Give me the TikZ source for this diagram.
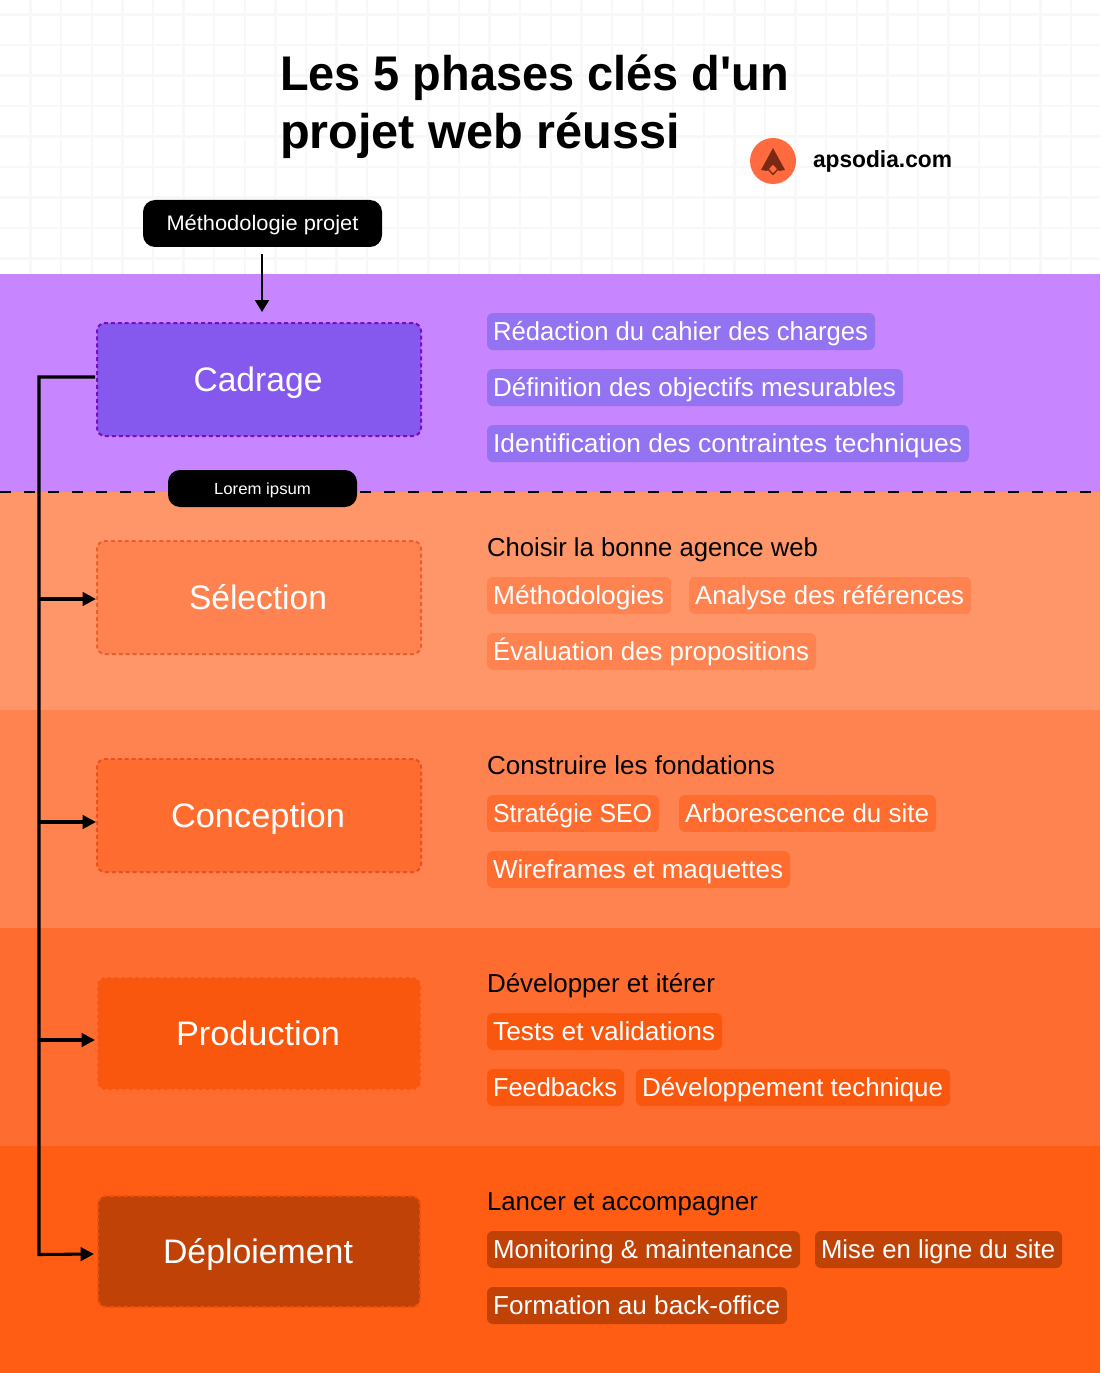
\documentclass[tikz,border=0pt]{standalone}
\usepackage{graphicx}
\usepackage{fontspec}
\setmainfont{Liberation Sans}
\newfontfamily\plainquote{Liberation Sans}
\usetikzlibrary{arrows.meta,calc}
\definecolor{bandA}{HTML}{C786FF}
\definecolor{bandB}{HTML}{FF9669}
\definecolor{bandC}{HTML}{FF8350}
\definecolor{bandD}{HTML}{FF6C30}
\definecolor{bandE}{HTML}{FF5C14}
\definecolor{boxA}{HTML}{8558EE}
\definecolor{boxD}{HTML}{FA570E}
\definecolor{boxE}{HTML}{C04207}
\definecolor{pillA}{HTML}{9373F2}
\definecolor{edgeA}{HTML}{7A0CC4}
\definecolor{edgeB}{HTML}{E8602F}
\definecolor{edgeC}{HTML}{E8521F}
\definecolor{edgeD}{HTML}{FF6C30}
\definecolor{edgeE}{HTML}{F0500F}
\definecolor{gridc}{HTML}{F8F8F8}
\definecolor{logoc}{HTML}{FF6B3F}
\definecolor{logod}{HTML}{7A2A12}
% text stretched or narrowed to a target width given in reference pixels
\newcommand\fitw[2]{\setbox0=\hbox{#2}\pgfmathsetmacro\myratio{((#1)*0.75)/\the\wd0}\scalebox{\myratio}[1]{\box0}}
\tikzset{
  every node/.append style={outer sep=0pt},
  band/.style={fill=#1,draw=none},
  phasebox/.style n args={2}{draw=#2,fill=#1,rounded corners=6pt,dash pattern=on 3pt off 2.2pt,line width=1.5pt,
    anchor=north west,inner sep=0pt,text=white,font=\fontsize{25.5pt}{27pt}\selectfont,
    text height=18pt,text depth=0pt},
  pillbox/.style={fill=#1,draw=none,rounded corners=4.5pt,anchor=north west,inner sep=0pt,text=white,
    font=\fontsize{19.5pt}{22pt}\selectfont,minimum height=27.75pt,text height=13.5pt,text depth=.75pt},
  headtext/.style={anchor=base west,inner sep=0pt,text=black,font=\fontsize{19.5pt}{22pt}\selectfont},
  blackbtn/.style={fill=black,draw=none,text=white,inner sep=0pt,anchor=north west},
  flowarrow/.style={draw=black,line width=2.3pt,-{Triangle[length=10pt,width=10pt]}},
}
\newcommand\pill[6]{\node[pillbox=#5,minimum width={(#3-#2)*0.75pt}] (#1) at (#2,#4) {\kern-.6pt\fitw{#3-#2-13}{#6}};}
\newcommand\phaselabel[2]{\kern-1.5pt\fitw{#1+1}{#2}}
\begin{document}
\begin{tikzpicture}[x=0.75pt,y=-0.75pt]
\useasboundingbox (0,0) rectangle (1100,1373);
\fill[white] (0,0) rectangle (1100,274);
% faint background grid
\foreach \gx in {1,...,35} \draw[gridc,line width=1.8pt] ({\gx*30.6},0) -- ({\gx*30.6},274);
\foreach \gy in {0,...,8} \draw[gridc,line width=1.8pt] (0,{14.5+\gy*30.5}) -- (1100,{14.5+\gy*30.5});
% bands
\fill[band=bandA] (0,274) rectangle (1100,492);
\fill[band=bandB] (0,492) rectangle (1100,710);
\fill[band=bandC] (0,710) rectangle (1100,928);
\fill[band=bandD] (0,928) rectangle (1100,1146);
\fill[band=bandE] (0,1146) rectangle (1100,1373);
% title
\node[anchor=base west,inner sep=0pt,font=\plainquote\bfseries\fontsize{36.5pt}{40pt}\selectfont] (title1) at (280,91) {\fitw{509}{Les 5 phases clés d'un}};
\node[anchor=base west,inner sep=0pt,font=\bfseries\fontsize{36.5pt}{40pt}\selectfont] (title2) at (280,149) {\fitw{400}{projet web réussi}};
% logo
\fill[logoc] (773,161) circle (23);
\fill[logod] (773,148) -- (785,170) -- (779,171) -- (773,163) -- (767,171) -- (761,170) -- cycle;
\draw[logod,fill=logoc,line width=1pt] (773,163.5) -- (778,169) -- (773,174.5) -- (768,169) -- cycle;
\node[anchor=base west,inner sep=0pt,font=\bfseries\fontsize{17.5pt}{20pt}\selectfont] (site) at (813,167.5) {\fitw{139}{apsodia.com}};
% black buttons
\node[blackbtn,rounded corners=9pt,minimum width=179.25pt,minimum height=35.25pt,font=\fontsize{15.75pt}{18pt}\selectfont,text height=11.25pt,text depth=.75pt] (methode) at (143,200) {\fitw{192}{Méthodologie projet}};
% separator
\coordinate (sepL) at (0,492);
\coordinate (sepR) at (1100,492);
\draw[black,line width=1.6pt,dash pattern=on 8.25pt off 9.75pt] (sepL) -- (sepR);
\node[blackbtn,rounded corners=9pt,minimum width=141.75pt,minimum height=27.75pt,font=\fontsize{12pt}{14pt}\selectfont,text height=9pt,text depth=.75pt] (lorem) at (168,470) {\fitw{97}{Lorem ipsum}};
% phase boxes
\node[phasebox={boxA}{edgeA},minimum width=243pt,minimum height=84.75pt] (cad) at (97,323) {\phaselabel{128}{Cadrage}};
\node[phasebox={bandC}{edgeB},minimum width=243pt,minimum height=84.75pt] (sel) at (97,541) {\phaselabel{137}{Sélection}};
\node[phasebox={bandD}{edgeC},minimum width=243pt,minimum height=84.75pt] (con) at (97,759) {\phaselabel{173}{Conception}};
\node[phasebox={boxD}{edgeD},minimum width=243pt,minimum height=84.75pt] (pro) at (97,977) {\phaselabel{163}{Production}};
\node[phasebox={boxE}{edgeE},minimum width=241.5pt,minimum height=83.25pt] (dep) at (98,1196) {\phaselabel{189}{Déploiement}};
% connectors
\coordinate (topstart) at (262,254);
\coordinate (topend) at ($(cad.north)+(3,-11)$);
\coordinate (sela) at ($(sel.west)+(-1,1.5)$);
\coordinate (cona) at ($(con.west)+(-1,6.5)$);
\coordinate (proa) at ($(pro.west)+(-2,6.5)$);
\coordinate (depa) at ($(dep.west)+(-4,2.5)$);
\coordinate (cads) at ($(cad.west)+(-2,-2.5)$);
\coordinate (trunk) at (39,1254.5);
\draw[black,line width=1.6pt,-{Triangle[length=9pt,width=10.5pt]}] (topstart) -- (topend);
\draw[flowarrow] (cads) -| (trunk) -- (depa);
\draw[flowarrow] (trunk |- sela) -- (sela);
\draw[flowarrow] (trunk |- cona) -- (cona);
\draw[flowarrow] (trunk |- proa) -- (proa);
% phase 1
\pill{a1}{487}{875}{313}{pillA}{Rédaction du cahier des charges}
\pill{a2}{487}{903}{369}{pillA}{Définition des objectifs mesurables}
\pill{a3}{487}{969}{425}{pillA}{Identification des contraintes techniques}
% phase 2
\node[headtext] (h2) at (487,556) {\fitw{331}{Choisir la bonne agence web}};
\pill{b1}{487}{671}{577}{bandC}{Méthodologies}
\pill{b2}{689}{971}{577}{bandC}{Analyse des références}
\pill{b3}{487}{816}{633}{bandC}{Évaluation des propositions}
% phase 3
\node[headtext] (h3) at (487,774) {\fitw{288}{Construire les fondations}};
\pill{c1}{487}{659}{795}{bandD}{Stratégie SEO}
\pill{c2}{679}{936}{795}{bandD}{Arborescence du site}
\pill{c3}{487}{790}{851}{bandD}{Wireframes et maquettes}
% phase 4
\node[headtext] (h4) at (487,992) {\fitw{228}{Développer et itérer}};
\pill{d1}{487}{722}{1013}{boxD}{Tests et validations}
\pill{d2}{487}{624}{1069}{boxD}{Feedbacks}
\pill{d3}{636}{950}{1069}{boxD}{Développement technique}
% phase 5
\node[headtext] (h5) at (487,1210) {\fitw{271}{Lancer et accompagner}};
\pill{e1}{487}{800}{1231}{boxE}{Monitoring \& maintenance}
\pill{e2}{815}{1062}{1231}{boxE}{Mise en ligne du site}
\pill{e3}{487}{787}{1287}{boxE}{Formation au back-office}
\end{tikzpicture}
\end{document}
